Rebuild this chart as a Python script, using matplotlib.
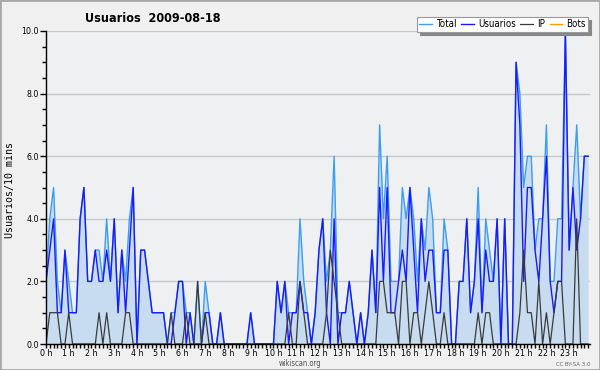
import numpy as np
import matplotlib
matplotlib.use("Agg")
import matplotlib.pyplot as plt
from matplotlib.patches import Rectangle
from matplotlib.ticker import MultipleLocator, FixedLocator, FuncFormatter

plt.rcParams['font.family'] = ['DejaVu Sans']
plt.rcParams['font.stretch'] = 'condensed'

title = "Usuarios  2009-08-18"
ylabel = "Usuarios/10 mins"
hour_labels = ["0 h", "1 h", "2 h", "3 h", "4 h", "5 h", "6 h", "7 h", "8 h", "9 h",
               "10 h", "11 h", "12 h", "13 h", "14 h", "15 h", "16 h", "17 h", "18 h",
               "19 h", "20 h", "21 h", "22 h", "23 h"]

# one value per 10-minute slot (144 slots)
total = [2, 4, 5, 2, 1, 3, 2, 1, 1, 4, 5, 2, 2, 3, 3, 2, 4, 2, 4, 1, 3, 2, 4, 5,
         0, 3, 3, 2, 1, 1, 1, 1, 0, 1, 1, 2, 2, 1, 1, 0, 2, 0, 2, 1, 0, 0, 1, 0,
         0, 0, 0, 0, 0, 0, 1, 0, 0, 0, 0, 0, 0, 2, 1, 2, 1, 1, 1, 4, 2, 1, 0, 1,
         3, 4, 2, 3, 6, 1, 1, 1, 2, 1, 0, 1, 0, 1, 3, 1, 7, 4, 6, 2, 2, 2, 5, 4,
         5, 4, 2, 4, 3, 5, 4, 1, 1, 4, 3, 0, 0, 2, 2, 4, 1, 2, 5, 1, 4, 3, 2, 4,
         0, 4, 0, 0, 9, 8, 5, 6, 6, 3, 4, 4, 7, 2, 2, 4, 4, 10, 3, 5, 7, 4, 6, 6]

usuarios = [2, 3, 4, 1, 1, 3, 1, 1, 1, 4, 5, 2, 2, 3, 2, 2, 3, 2, 4, 1, 3, 1, 3, 5,
            0, 3, 3, 2, 1, 1, 1, 1, 0, 0, 1, 2, 2, 0, 1, 0, 0, 0, 1, 1, 0, 0, 1, 0,
            0, 0, 0, 0, 0, 0, 1, 0, 0, 0, 0, 0, 0, 2, 1, 2, 0, 1, 1, 2, 1, 1, 0, 1,
            3, 4, 1, 0, 4, 0, 1, 1, 2, 1, 0, 1, 0, 1, 3, 1, 5, 2, 5, 1, 1, 2, 3, 2,
            5, 3, 1, 4, 2, 3, 3, 1, 1, 3, 3, 0, 0, 2, 2, 4, 1, 2, 4, 1, 3, 2, 2, 4,
            0, 4, 0, 0, 9, 7, 2, 5, 5, 3, 2, 4, 6, 2, 1, 2, 2, 10, 3, 5, 3, 4, 6, 6]

ip = [0, 1, 1, 1, 0, 0, 1, 0, 0, 0, 0, 0, 0, 0, 1, 0, 1, 0, 0, 0, 0, 1, 1, 0,
      0, 0, 0, 0, 0, 0, 0, 0, 0, 1, 0, 0, 0, 1, 0, 0, 2, 0, 1, 0, 0, 0, 0, 0,
      0, 0, 0, 0, 0, 0, 0, 0, 0, 0, 0, 0, 0, 0, 0, 0, 1, 0, 0, 2, 1, 0, 0, 0,
      0, 0, 1, 3, 2, 1, 0, 0, 0, 0, 0, 0, 0, 0, 0, 0, 2, 2, 1, 1, 1, 0, 2, 2,
      0, 1, 1, 0, 1, 2, 1, 0, 0, 1, 0, 0, 0, 0, 0, 0, 0, 0, 1, 0, 1, 1, 0, 0,
      0, 0, 0, 0, 0, 1, 3, 1, 1, 0, 2, 0, 1, 0, 1, 2, 2, 0, 0, 0, 4, 0, 0, 0]

bots = [0] * 144

x = np.arange(len(total))

fig = plt.figure(figsize=(6.0, 3.7), dpi=100, facecolor='#f0f0f0')
ax = fig.add_axes([46/600, 26/370, 544/600, 313/370])
ax.set_facecolor('#eef0f2')

ax.fill_between(x, total, 0, color='#c7dcf0', lw=0, zorder=1)
ax.plot(x, bots, color='#ff9900', lw=1.0, zorder=2, label='Bots')
ax.plot(x, total, color='#3d9df2', lw=1.0, zorder=3, label='Total')
ax.plot(x, usuarios, color='#1a1aff', lw=1.0, zorder=4, label='Usuarios')
ax.plot(x, ip, color='#3a3a3a', lw=0.9, zorder=5, label='IP')

ax.set_xlim(0, 143.5)
ax.set_ylim(0, 10)

ax.yaxis.grid(True, which='major', color='#c8c8c8', lw=1.0)
ax.set_axisbelow(True)

for s in ['top', 'right']:
    ax.spines[s].set_visible(False)
for s in ['left', 'bottom']:
    ax.spines[s].set_color('black')
    ax.spines[s].set_linewidth(1.0)
    ax.spines[s].set_zorder(6)

ax.yaxis.set_major_locator(MultipleLocator(2))
ax.yaxis.set_minor_locator(MultipleLocator(0.5))
ax.yaxis.set_major_formatter(FuncFormatter(lambda v, p: f"{v:.1f}"))
ax.tick_params(axis='y', which='major', direction='out', length=4, width=1,
               labelsize=6.3, pad=1, colors='black')
ax.tick_params(axis='y', which='minor', direction='out', length=3, width=1)

ax.xaxis.set_major_locator(FixedLocator(np.arange(len(hour_labels)) * 6))
ax.set_xticklabels(hour_labels)
ax.xaxis.set_minor_locator(MultipleLocator(1))
ax.tick_params(axis='x', which='major', direction='out', length=3, width=1,
               labelsize=6.3, pad=0.5)
ax.tick_params(axis='x', which='minor', direction='out', length=3, width=1)

fig.text(10/600, 1 - 190/370, ylabel, rotation=90, ha='center', va='center',
         family='DejaVu Sans Mono', fontsize=7.2)
fig.text(85/600, 1 - 18/370, title, ha='left', va='center',
         fontsize=9, fontweight='bold')
fig.text(300/600, 1 - 364/370, "wikiscan.org", ha='center', va='center',
         fontsize=5.5, color='#555555')
fig.text(590/600, 1 - 364/370, "CC BY-SA 3.0", ha='right', va='center',
         fontsize=4.3, color='#666666')

handles, labels = ax.get_legend_handles_labels()
order = ['Total', 'Usuarios', 'IP', 'Bots']
hmap = dict(zip(labels, handles))
leg = fig.legend([hmap[k] for k in order], order, ncol=4, loc='upper right',
                 bbox_to_anchor=(588/600, 1 - 17/370), fontsize=7,
                 handlelength=1.3, handletextpad=0.4, columnspacing=0.5,
                 borderpad=0.25, borderaxespad=0, fancybox=False,
                 framealpha=1, facecolor='white', edgecolor='#999999',
                 shadow={'color': '#888888', 'alpha': 1})
leg.get_frame().set_linewidth(0.8)

fig.patches.append(Rectangle((0, 0), 1, 1, transform=fig.transFigure, fill=False,
                             edgecolor='#a8a8a8', lw=2))

fig.savefig('out.png', dpi=100, facecolor=fig.get_facecolor())
